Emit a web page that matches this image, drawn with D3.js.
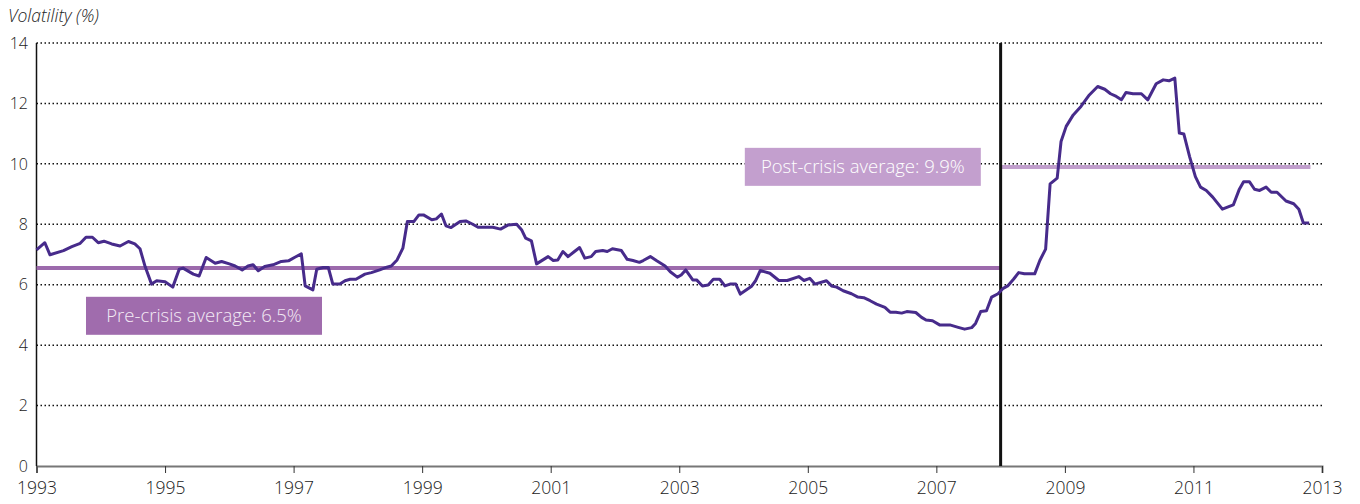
<!DOCTYPE html>
<html>
<head>
<meta charset="utf-8">
<script src="https://cdn.jsdelivr.net/npm/d3@7"></script>
<style>
  body { margin: 0; background: #fff; }
  svg { display: block; font-family: "Open Sans", "Noto Sans", sans-serif; font-weight: 300; }
</style>
</head>
<body>
<svg width="1360" height="504"></svg>
<script>
// monthly-ish readings, decimal years
const dates = [
  1993.0, 1993.13, 1993.21, 1993.42, 1993.55, 1993.68, 1993.77, 1993.87, 1993.96, 1994.05,
  1994.17, 1994.30, 1994.43, 1994.53, 1994.61, 1994.69, 1994.79, 1994.87, 1995.0, 1995.12,
  1995.22, 1995.28, 1995.44, 1995.53, 1995.64, 1995.78, 1995.88, 1996.0, 1996.09, 1996.20,
  1996.29, 1996.37, 1996.45, 1996.55, 1996.68, 1996.81, 1996.92, 1997.02, 1997.12, 1997.18,
  1997.30, 1997.36, 1997.46, 1997.54, 1997.61, 1997.72, 1997.80, 1997.88, 1997.97, 1998.11,
  1998.21, 1998.34, 1998.45, 1998.52, 1998.61, 1998.70, 1998.77, 1998.87, 1998.95, 1999.02,
  1999.15, 1999.22, 1999.30, 1999.37, 1999.45, 1999.59, 1999.68, 1999.78, 1999.87, 2000.10,
  2000.22, 2000.34, 2000.47, 2000.55, 2000.61, 2000.70, 2000.78, 2000.96, 2001.04, 2001.11,
  2001.19, 2001.27, 2001.37, 2001.45, 2001.53, 2001.63, 2001.70, 2001.81, 2001.88, 2001.96,
  2002.10, 2002.19, 2002.28, 2002.38, 2002.44, 2002.55, 2002.65, 2002.78, 2002.86, 2002.97,
  2003.03, 2003.10, 2003.21, 2003.27, 2003.36, 2003.45, 2003.53, 2003.63, 2003.71, 2003.79,
  2003.88, 2003.95, 2004.12, 2004.19, 2004.26, 2004.41, 2004.55, 2004.68, 2004.86, 2004.94,
  2005.03, 2005.11, 2005.29, 2005.37, 2005.45, 2005.55, 2005.68, 2005.78, 2005.87, 2005.97,
  2006.07, 2006.20, 2006.28, 2006.37, 2006.46, 2006.54, 2006.68, 2006.77, 2006.84, 2006.94,
  2007.05, 2007.21, 2007.34, 2007.44, 2007.55, 2007.61, 2007.69, 2007.78, 2007.86, 2007.96,
  2008.04, 2008.11, 2008.20, 2008.28, 2008.37, 2008.53, 2008.61, 2008.70, 2008.77, 2008.88,
  2008.94, 2009.02, 2009.13, 2009.25, 2009.38, 2009.51, 2009.62, 2009.71, 2009.80, 2009.88,
  2009.95, 2010.06, 2010.19, 2010.29, 2010.42, 2010.53, 2010.62, 2010.71, 2010.78, 2010.85,
  2010.94, 2011.03, 2011.11, 2011.20, 2011.30, 2011.45, 2011.62, 2011.71, 2011.78, 2011.87,
  2011.95, 2012.03, 2012.13, 2012.21, 2012.30, 2012.44, 2012.56, 2012.64, 2012.71, 2012.80
];
const volatility = [
  7.15, 7.39, 6.99, 7.13, 7.26, 7.37, 7.57, 7.57, 7.39, 7.44,
  7.35, 7.28, 7.43, 7.35, 7.19, 6.60, 6.02, 6.13, 6.10, 5.92,
  6.51, 6.55, 6.35, 6.29, 6.90, 6.71, 6.77, 6.69, 6.62, 6.49,
  6.62, 6.66, 6.46, 6.60, 6.66, 6.77, 6.79, 6.91, 7.02, 5.96,
  5.83, 6.51, 6.57, 6.57, 6.02, 6.02, 6.13, 6.18, 6.18, 6.35,
  6.40, 6.49, 6.58, 6.62, 6.82, 7.21, 8.09, 8.09, 8.31, 8.31,
  8.15, 8.18, 8.34, 7.95, 7.89, 8.09, 8.11, 8.01, 7.90, 7.90,
  7.84, 7.98, 8.00, 7.81, 7.54, 7.45, 6.69, 6.93, 6.80, 6.82,
  7.10, 6.93, 7.10, 7.23, 6.88, 6.93, 7.10, 7.13, 7.10, 7.19,
  7.13, 6.84, 6.80, 6.74, 6.80, 6.93, 6.79, 6.62, 6.43, 6.25,
  6.32, 6.49, 6.16, 6.16, 5.96, 5.99, 6.18, 6.18, 5.96, 6.02,
  6.02, 5.69, 5.94, 6.14, 6.47, 6.38, 6.14, 6.14, 6.27, 6.14,
  6.21, 6.02, 6.13, 5.96, 5.92, 5.80, 5.70, 5.59, 5.57, 5.47,
  5.36, 5.25, 5.09, 5.09, 5.06, 5.11, 5.08, 4.92, 4.83, 4.81,
  4.67, 4.67, 4.59, 4.53, 4.58, 4.72, 5.11, 5.14, 5.59, 5.70,
  5.88, 5.96, 6.18, 6.40, 6.36, 6.36, 6.80, 7.18, 9.34, 9.53,
  10.74, 11.24, 11.62, 11.90, 12.28, 12.56, 12.47, 12.32, 12.23, 12.12,
  12.36, 12.32, 12.32, 12.12, 12.65, 12.78, 12.75, 12.84, 11.02, 10.99,
  10.24, 9.58, 9.23, 9.12, 8.90, 8.50, 8.64, 9.14, 9.41, 9.41,
  9.16, 9.12, 9.23, 9.06, 9.06, 8.77, 8.68, 8.50, 8.04, 8.04
];

const yTicks = [0, 2, 4, 6, 8, 10, 12, 14];
const xTicks = [1993, 1995, 1997, 1999, 2001, 2003, 2005, 2007, 2009, 2011, 2013];

const crisisYear = 2008;
const preAverage = 6.55;
const postAverage = 9.9;
const postEnd = 2012.82;
const preLabel = "Pre-crisis average: 6.5%";
const postLabel = "Post-crisis average: 9.9%";

const svg = d3.select("svg");
const margin = { top: 43, right: 38, bottom: 38, left: 36.5 };
const width = +svg.attr("width");
const height = +svg.attr("height");

const x = d3.scaleLinear().domain([1993, 2013]).range([margin.left, width - margin.right]);
const y = d3.scaleLinear().domain([0, 14]).range([height - margin.bottom, margin.top]);

// dotted gridlines
svg.append("g")
  .selectAll("line")
  .data(yTicks.filter((d) => d > 0))
  .join("line")
  .attr("x1", x(1993))
  .attr("x2", x(2013))
  .attr("y1", (d) => y(d))
  .attr("y2", (d) => y(d))
  .attr("stroke", "#111")
  .attr("stroke-width", 1.5)
  .attr("stroke-dasharray", "1.5,2.5");

// y labels
svg.append("g")
  .selectAll("text")
  .data(yTicks)
  .join("text")
  .attr("x", 28)
  .attr("y", (d) => y(d))
  .attr("dy", "0.36em")
  .attr("text-anchor", "end")
  .attr("font-size", 16)
  .attr("fill", "#222")
  .text((d) => d);

svg.append("text")
  .attr("x", 8)
  .attr("y", 22)
  .attr("font-size", 17.5)
  .attr("font-style", "italic")
  .attr("fill", "#222")
  .text("Volatility (%)");

// x axis
const xAxis = svg.append("g")
  .attr("transform", `translate(0,${y(0)})`)
  .call(d3.axisBottom(x).tickValues(xTicks).tickFormat(d3.format("d")).tickSize(7).tickPadding(9));
xAxis.select(".domain").attr("stroke", "#777").attr("stroke-width", 2);
xAxis.selectAll(".tick line").attr("stroke", "#333");
xAxis.selectAll(".tick text")
  .attr("font-size", 17.5)
  .attr("fill", "#222")
  .attr("font-family", "'Open Sans', 'Noto Sans', sans-serif")
  .attr("font-weight", 300);

// y axis line
svg.append("line")
  .attr("x1", x(1993)).attr("x2", x(1993))
  .attr("y1", y(14)).attr("y2", y(0))
  .attr("stroke", "#111")
  .attr("stroke-width", 1.5);

// averages
svg.append("line")
  .attr("x1", x(1993)).attr("x2", x(crisisYear))
  .attr("y1", y(preAverage)).attr("y2", y(preAverage))
  .attr("stroke", "#9c6aac")
  .attr("stroke-width", 4);

svg.append("line")
  .attr("x1", x(crisisYear)).attr("x2", x(postEnd))
  .attr("y1", y(postAverage)).attr("y2", y(postAverage))
  .attr("stroke", "#c19fcd")
  .attr("stroke-width", 4);

// crisis marker
svg.append("line")
  .attr("x1", x(crisisYear)).attr("x2", x(crisisYear))
  .attr("y1", y(14)).attr("y2", y(0))
  .attr("stroke", "#111")
  .attr("stroke-width", 3);

// volatility line
const series = dates.map((d, i) => [d, volatility[i]]);
svg.append("path")
  .datum(series)
  .attr("fill", "none")
  .attr("stroke", "#472b8b")
  .attr("stroke-width", 3)
  .attr("stroke-linejoin", "round")
  .attr("d", d3.line().x((d) => x(d[0])).y((d) => y(d[1])));

// label boxes
const addLabel = (year, value, text, fill, color) => {
  const g = svg.append("g").attr("transform", `translate(${x(year)},${y(value)})`);
  g.append("rect")
    .attr("width", 236)
    .attr("height", 38)
    .attr("fill", fill);
  g.append("text")
    .attr("x", 118)
    .attr("y", 19)
    .attr("dy", "0.36em")
    .attr("text-anchor", "middle")
    .attr("font-size", 18.5)
    .attr("fill", color)
    .text(text);
};
addLabel(1993.77, 5.6, preLabel, "#a06cad", "#f3eaf5");
addLabel(2004.02, 10.53, postLabel, "#c39fce", "#ffffff");
</script>
</body>
</html>
